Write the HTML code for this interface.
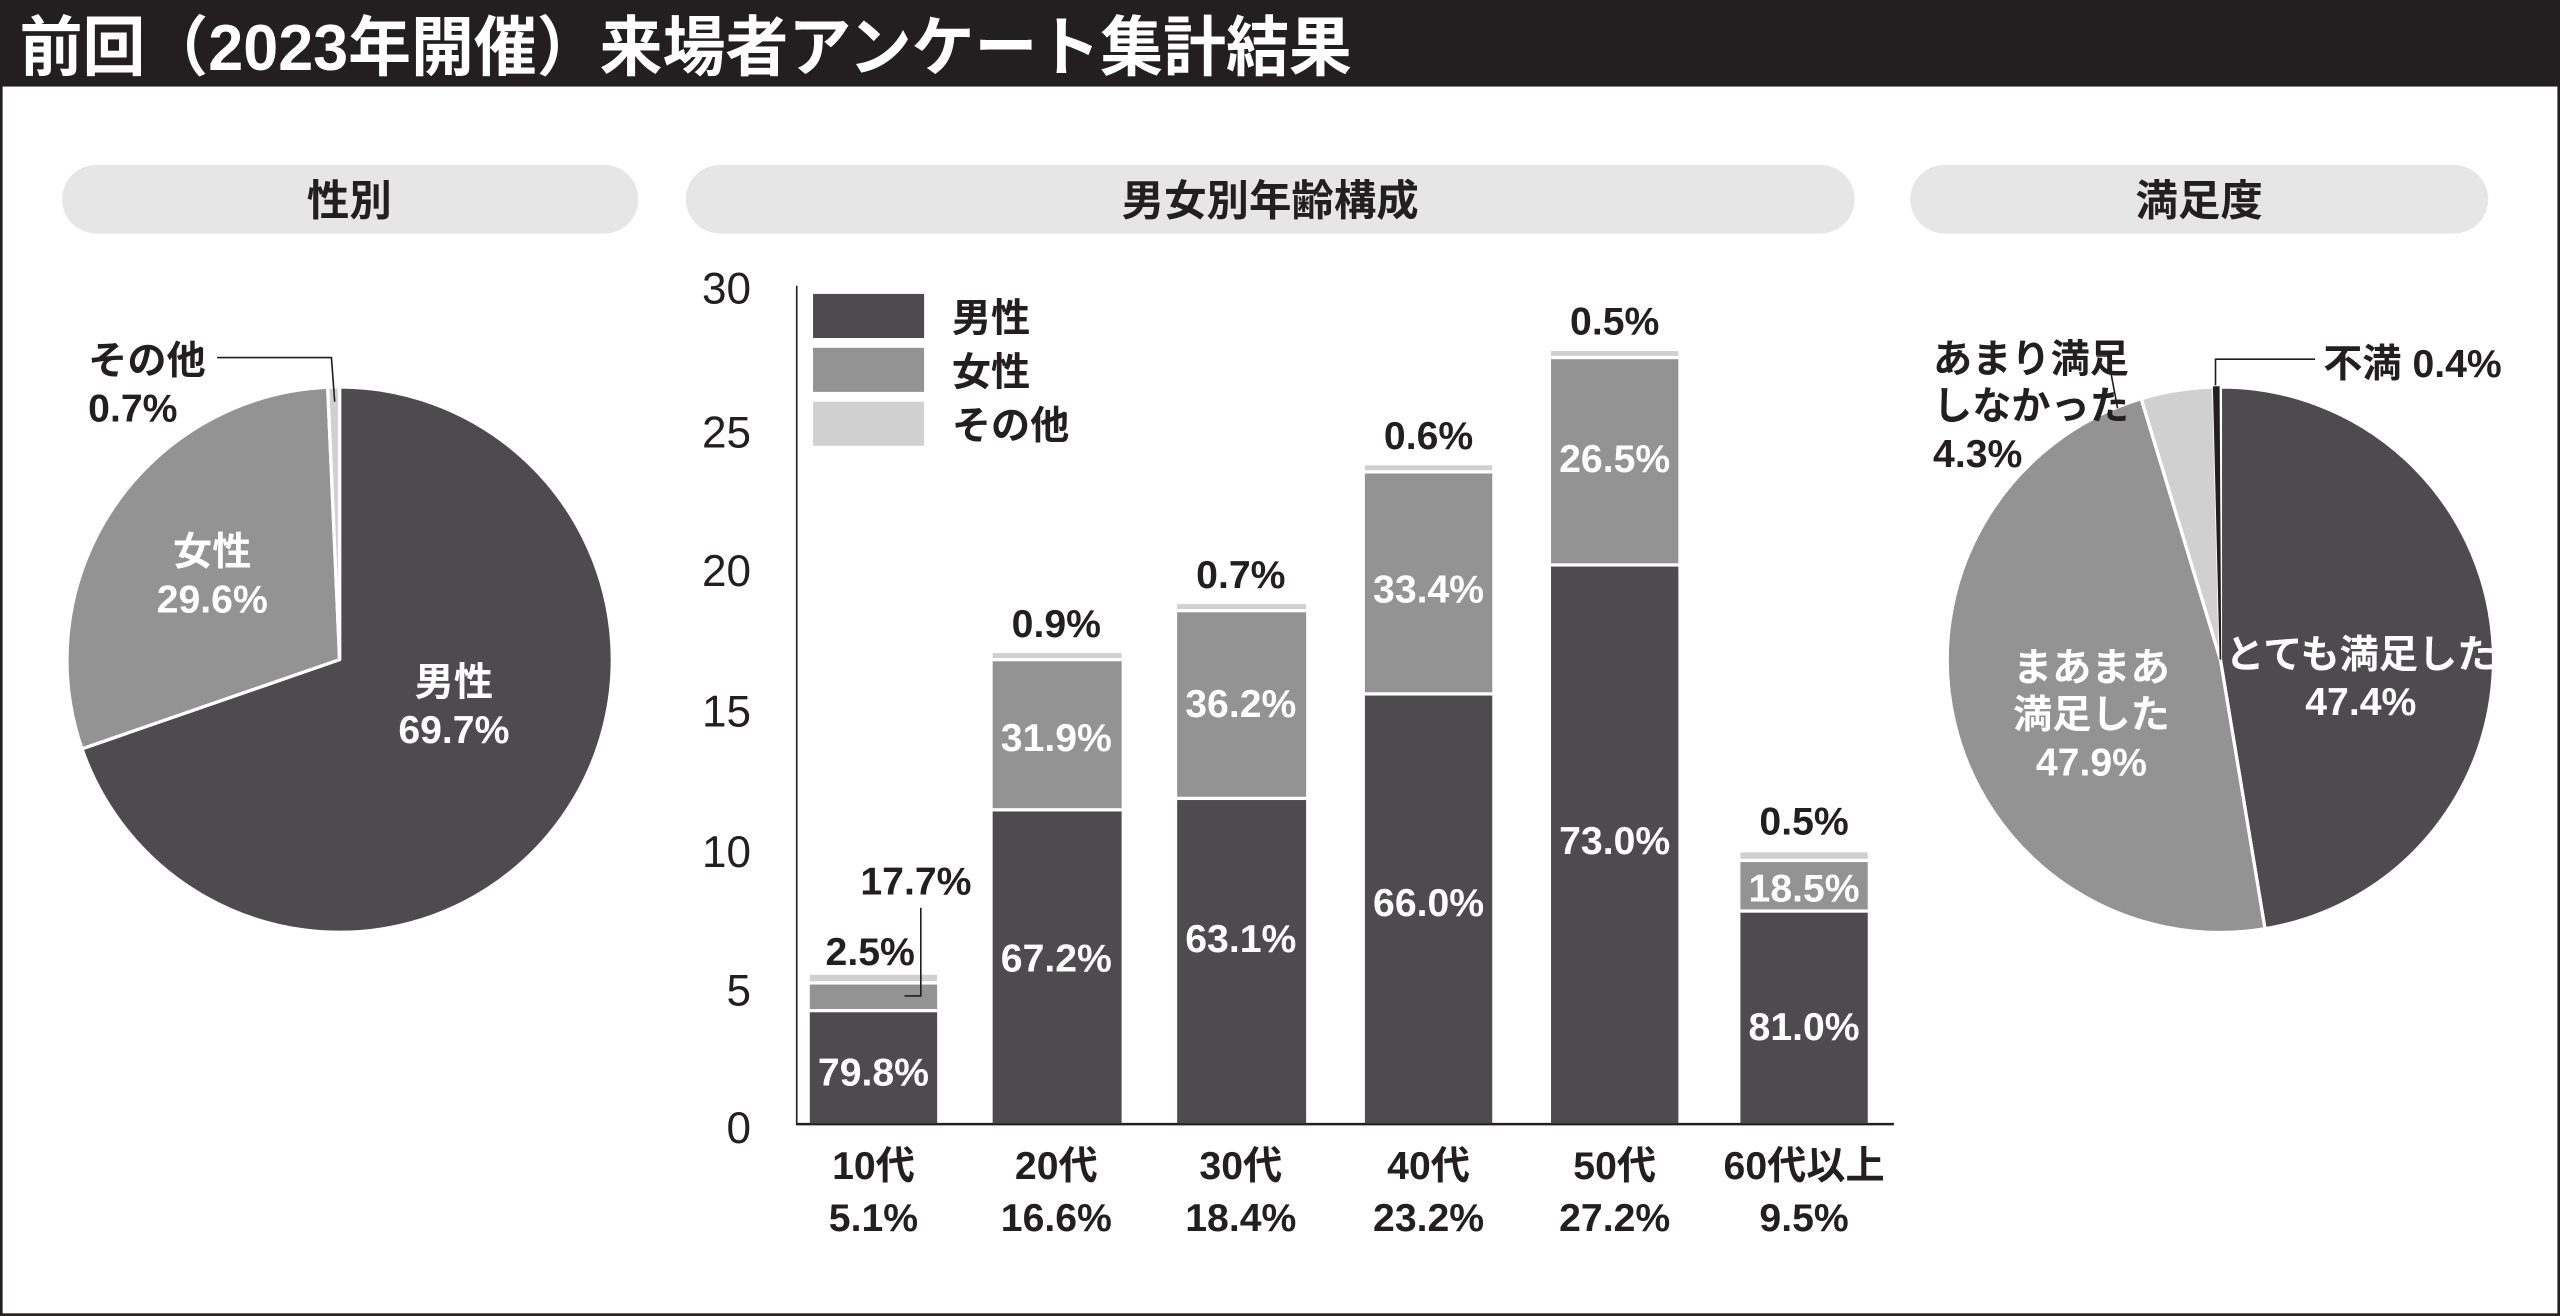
<!DOCTYPE html>
<html><head><meta charset="utf-8"><style>
html,body{margin:0;padding:0;background:#fff}
svg{display:block}
text{font-family:"Liberation Sans","Noto Sans CJK JP",sans-serif;font-weight:bold}
.w{fill:#fff;font-size:24px}
.b{fill:#231f20;font-size:24px}
.ax{fill:#231f20;font-size:27px;font-weight:normal}
</style></head><body>
<svg width="2560" height="1316" viewBox="0 0 1568 806" xmlns="http://www.w3.org/2000/svg">
<rect x="0" y="0" width="1568" height="806" fill="#fff"/>
<rect x="0.8" y="0.8" width="1566.4" height="804.4" fill="none" stroke="#231f20" stroke-width="1.6"/>
<rect x="0" y="0" width="1568" height="53" fill="#231f20"/>
<text x="12" y="43" fill="#fff" font-size="40" textLength="816" lengthAdjust="spacingAndGlyphs">前回（2023年開催）来場者アンケート集計結果</text>

<rect x="38" y="101" width="353" height="42" rx="21" fill="#e6e6e7"/>
<rect x="420" y="101" width="716" height="42" rx="21" fill="#e6e6e7"/>
<rect x="1170" y="101" width="354" height="42" rx="21" fill="#e6e6e7"/>
<text x="214" y="132" text-anchor="middle" fill="#231f20" font-size="26">性別</text>
<text x="778" y="132" text-anchor="middle" fill="#231f20" font-size="26">男女別年齢構成</text>
<text x="1347" y="132" text-anchor="middle" fill="#231f20" font-size="26">満足度</text>

<!-- Pie 1 -->
<g stroke="#fff" stroke-width="2" stroke-linejoin="round">
<path d="M208,404 L208,237 A167,167 0 1 1 50.2,458.6 Z" fill="#4d4b4e"/>
<path d="M208,404 L50.2,458.6 A167,167 0 0 1 200.7,237.2 Z" fill="#939393"/>
<path d="M208,404 L200.7,237.2 A167,167 0 0 1 208,237 Z" fill="#d0d0d0"/>
</g>
<text class="w" x="130" y="346" text-anchor="middle">女性</text>
<text class="w" x="130" y="375" text-anchor="middle">29.6%</text>
<text class="w" x="278" y="426" text-anchor="middle">男性</text>
<text class="w" x="278" y="455" text-anchor="middle">69.7%</text>
<text class="b" x="54" y="229">その他</text>
<text class="b" x="54" y="258">0.7%</text>
<polyline points="133,219 203,219 205,246" fill="none" stroke="#231f20" stroke-width="1"/>

<!-- Bar chart -->
<line x1="488" y1="175" x2="488" y2="689" stroke="#231f20" stroke-width="1"/>
<line x1="488" y1="688.5" x2="1160" y2="688.5" stroke="#231f20" stroke-width="1.5"/>
<text class="ax" x="460" y="700" text-anchor="end">0</text>
<text class="ax" x="460" y="616" text-anchor="end">5</text>
<text class="ax" x="460" y="531" text-anchor="end">10</text>
<text class="ax" x="460" y="445" text-anchor="end">15</text>
<text class="ax" x="460" y="359" text-anchor="end">20</text>
<text class="ax" x="460" y="274" text-anchor="end">25</text>
<text class="ax" x="460" y="186" text-anchor="end">30</text>

<rect x="498" y="180" width="68" height="27" fill="#4d4b4e"/>
<rect x="498" y="213" width="68" height="27" fill="#939393"/>
<rect x="498" y="246" width="68" height="27" fill="#d0d0d0"/>
<text class="b" x="583" y="203">男性</text>
<text class="b" x="583" y="236">女性</text>
<text class="b" x="583" y="269">その他</text>

<g>
<rect x="496" y="620" width="78" height="68" fill="#4d4b4e"/>
<rect x="496" y="603" width="78" height="15" fill="#939393"/>
<rect x="496" y="597" width="78" height="4" fill="#d0d0d0"/>
<rect x="608" y="497" width="79" height="191" fill="#4d4b4e"/>
<rect x="608" y="405" width="79" height="90" fill="#939393"/>
<rect x="608" y="400" width="79" height="3" fill="#d0d0d0"/>
<rect x="721" y="490" width="79" height="198" fill="#4d4b4e"/>
<rect x="721" y="375" width="79" height="113" fill="#939393"/>
<rect x="721" y="370" width="79" height="3" fill="#d0d0d0"/>
<rect x="836" y="426" width="78" height="262" fill="#4d4b4e"/>
<rect x="836" y="290" width="78" height="134" fill="#939393"/>
<rect x="836" y="285" width="78" height="3" fill="#d0d0d0"/>
<rect x="950" y="347" width="78" height="341" fill="#4d4b4e"/>
<rect x="950" y="220" width="78" height="125" fill="#939393"/>
<rect x="950" y="215" width="78" height="3" fill="#d0d0d0"/>
<rect x="1066" y="559" width="78" height="129" fill="#4d4b4e"/>
<rect x="1066" y="528" width="78" height="29" fill="#939393"/>
<rect x="1066" y="522" width="78" height="4" fill="#d0d0d0"/>
</g>

<text class="w" x="535" y="665" text-anchor="middle">79.8%</text>
<text class="b" x="533" y="591" text-anchor="middle">2.5%</text>
<text class="b" x="561" y="548" text-anchor="middle">17.7%</text>
<polyline points="564,556 564,610 554,610" fill="none" stroke="#231f20" stroke-width="1"/>

<text class="w" x="647" y="595" text-anchor="middle">67.2%</text>
<text class="w" x="647" y="460" text-anchor="middle">31.9%</text>
<text class="b" x="647" y="390" text-anchor="middle">0.9%</text>

<text class="w" x="760" y="583" text-anchor="middle">63.1%</text>
<text class="w" x="760" y="439" text-anchor="middle">36.2%</text>
<text class="b" x="760" y="360" text-anchor="middle">0.7%</text>

<text class="w" x="875" y="561" text-anchor="middle">66.0%</text>
<text class="w" x="875" y="369" text-anchor="middle">33.4%</text>
<text class="b" x="875" y="275" text-anchor="middle">0.6%</text>

<text class="w" x="989" y="523" text-anchor="middle">73.0%</text>
<text class="w" x="989" y="289" text-anchor="middle">26.5%</text>
<text class="b" x="989" y="205" text-anchor="middle">0.5%</text>

<text class="w" x="1105" y="637" text-anchor="middle">81.0%</text>
<text class="w" x="1105" y="552" text-anchor="middle">18.5%</text>
<text class="b" x="1105" y="511" text-anchor="middle">0.5%</text>

<text class="b" x="535" y="722" text-anchor="middle">10代</text>
<text class="b" x="535" y="754" text-anchor="middle">5.1%</text>
<text class="b" x="647" y="722" text-anchor="middle">20代</text>
<text class="b" x="647" y="754" text-anchor="middle">16.6%</text>
<text class="b" x="760" y="722" text-anchor="middle">30代</text>
<text class="b" x="760" y="754" text-anchor="middle">18.4%</text>
<text class="b" x="875" y="722" text-anchor="middle">40代</text>
<text class="b" x="875" y="754" text-anchor="middle">23.2%</text>
<text class="b" x="989" y="722" text-anchor="middle">50代</text>
<text class="b" x="989" y="754" text-anchor="middle">27.2%</text>
<text class="b" x="1105" y="722" text-anchor="middle">60代以上</text>
<text class="b" x="1105" y="754" text-anchor="middle">9.5%</text>

<!-- Pie 3 -->
<g stroke="#fff" stroke-width="2" stroke-linejoin="round">
<path d="M1360,404 L1360,237 A167,167 0 0 1 1387.3,568.8 Z" fill="#4d4b4e"/>
<path d="M1360,404 L1387.3,568.8 A167,167 0 0 1 1311.5,244.2 Z" fill="#939393"/>
<path d="M1360,404 L1311.5,244.2 A167,167 0 0 1 1355.9,237 Z" fill="#d0d0d0"/>
</g>
<path d="M1360,404 L1355.9,237.1 L1359,237 Z" fill="#231f20" stroke="#231f20" stroke-width="1"/>
<text class="w" x="1446" y="409" text-anchor="middle">とても満足した</text>
<text class="w" x="1446" y="438" text-anchor="middle">47.4%</text>
<text class="w" x="1281" y="417" text-anchor="middle">まあまあ</text>
<text class="w" x="1281" y="446" text-anchor="middle">満足した</text>
<text class="w" x="1281" y="475" text-anchor="middle">47.9%</text>
<text class="b" x="1184" y="228">あまり満足</text>
<text class="b" x="1184" y="257">しなかった</text>
<text class="b" x="1184" y="286">4.3%</text>
<polyline points="1284,218 1291,218 1297,250" fill="none" stroke="#231f20" stroke-width="1"/>
<text class="b" x="1423" y="231">不満 0.4%</text>
<polyline points="1418,220 1357,220 1357,236" fill="none" stroke="#231f20" stroke-width="1"/>
</svg>
</body></html>
